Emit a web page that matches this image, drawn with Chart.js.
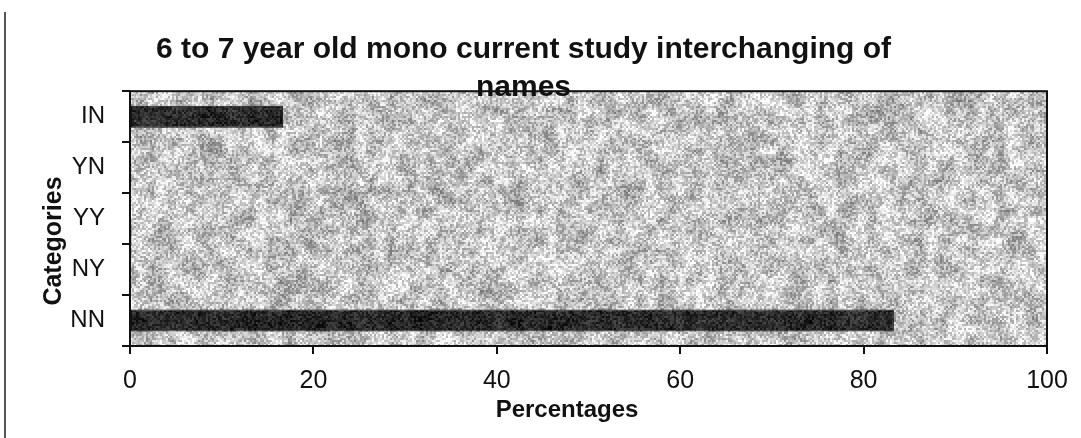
<!DOCTYPE html>
<html>
<head>
<meta charset="utf-8">
<script src="https://cdn.jsdelivr.net/npm/chart.js@4"></script>
<style>
html,body{margin:0;padding:0;background:#fff;}
#wrap{width:1081px;height:438px;position:relative;}
</style>
</head>
<body>
<div id="wrap"><canvas id="c" width="1081" height="438"></canvas></div>
<script>
const titleLines = ['6 to 7 year old mono current study interchanging of', 'names'];
const categories = ['IN', 'YN', 'YY', 'NY', 'NN'];
const percentages = [16.7, 0, 0, 0, 83.3];
const xTicks = [0, 20, 40, 60, 80, 100];
const xTitle = 'Percentages';
const yTitle = 'Categories';

const FONT = 'Liberation Sans, Arial, sans-serif';

// deterministic speckle texture (decorative only, scanned-paper look)
function mulberry32(a) {
  return function () {
    a |= 0; a = a + 0x6D2B79F5 | 0;
    let t = Math.imul(a ^ a >>> 15, 1 | a);
    t = t + Math.imul(t ^ t >>> 7, 61 | t) ^ t;
    return ((t ^ t >>> 14) >>> 0) / 4294967296;
  };
}
function makeTexture(W, H, base, lowAmp, highAmp, seed) {
  const c = document.createElement('canvas');
  c.width = W; c.height = H;
  const g = c.getContext('2d');
  const rnd = mulberry32(seed);
  const cell = 10;
  const GX = Math.ceil(W / cell) + 2, GY = Math.ceil(H / cell) + 2;
  const low = new Float32Array(GX * GY);
  for (let i = 0; i < low.length; i++) low[i] = rnd() - 0.5;
  const img = g.createImageData(W, H);
  const d = img.data;
  for (let y = 0; y < H; y += 2) {
    for (let x = 0; x < W; x += 2) {
      const gx = x / cell, gy = y / cell;
      const x0 = Math.floor(gx), y0 = Math.floor(gy);
      const fx = gx - x0, fy = gy - y0;
      const a = low[y0 * GX + x0], b = low[y0 * GX + x0 + 1];
      const cc = low[(y0 + 1) * GX + x0], dd = low[(y0 + 1) * GX + x0 + 1];
      const l = (a * (1 - fx) + b * fx) * (1 - fy) + (cc * (1 - fx) + dd * fx) * fy;
      const v = Math.max(0, Math.min(255, Math.round(base + l * lowAmp + (rnd() - 0.5) * highAmp)));
      for (let yy = y; yy < Math.min(y + 2, H); yy++) {
        for (let xx = x; xx < Math.min(x + 2, W); xx++) {
          const k = (yy * W + xx) * 4;
          d[k] = d[k + 1] = d[k + 2] = v; d[k + 3] = 255;
        }
      }
    }
  }
  g.putImageData(img, 0, 0);
  return c;
}
const ctx = document.getElementById('c').getContext('2d');
const bgPattern = ctx.createPattern(makeTexture(1081, 438, 198, 80, 95, 12345), 'no-repeat');
const barPattern = ctx.createPattern(makeTexture(1081, 438, 42, 30, 55, 777), 'no-repeat');

const framePlugin = {
  id: 'frame',
  beforeDraw(chart) {
    const a = chart.chartArea, g = chart.ctx;
    g.save();
    g.fillStyle = bgPattern;
    g.fillRect(a.left, a.top, a.right - a.left, a.bottom - a.top);
    // scanned page edge on the left
    g.strokeStyle = '#555';
    g.lineWidth = 2;
    g.beginPath(); g.moveTo(5, 12); g.lineTo(5, 438); g.stroke();
    g.restore();
  },
  afterDraw(chart) {
    const a = chart.chartArea, g = chart.ctx;
    g.save();
    g.strokeStyle = '#111';
    g.lineWidth = 2;
    g.strokeRect(a.left, a.top, a.right - a.left, a.bottom - a.top);
    // axis titles
    g.fillStyle = '#111';
    g.textAlign = 'center';
    g.textBaseline = 'middle';
    g.font = 'bold 24px ' + FONT;
    g.fillText(xTitle, 567, 410);
    g.translate(54, 241);
    g.rotate(-Math.PI / 2);
    g.font = 'bold 25px ' + FONT;
    g.fillText(yTitle, 0, 0);
    g.restore();
  }
};

new Chart(ctx, {
  type: 'bar',
  data: {
    labels: categories,
    datasets: [{
      data: percentages,
      backgroundColor: barPattern,
      borderColor: '#111',
      borderWidth: 1,
      borderSkipped: false,
      categoryPercentage: 1,
      barPercentage: 0.43
    }]
  },
  options: {
    indexAxis: 'y',
    responsive: false,
    animation: false,
    layout: { padding: { left: 0, right: 34, top: 0, bottom: 0 } },
    plugins: {
      legend: { display: false },
      tooltip: { enabled: false },
      title: {
        display: true,
        text: titleLines,
        color: '#111',
        font: { family: FONT, size: 30, weight: 'bold', lineHeight: 1.27 },
        padding: { top: 31, bottom: -16 }
      }
    },
    scales: {
      x: {
        min: 0, max: 100,
        afterBuildTicks(scale) { scale.ticks = xTicks.map(v => ({ value: v })); },
        afterFit(scale) { scale.height = 92; },
        grid: { drawOnChartArea: false, tickLength: 8, color: '#111', lineWidth: 2 },
        border: { color: '#111', width: 2 },
        ticks: { color: '#111', padding: 12, maxRotation: 0, font: { family: FONT, size: 25 } },
        title: { display: false }
      },
      y: {
        afterFit(scale) { scale.width = 130; },
        grid: { drawOnChartArea: false, tickLength: 8, color: '#111', lineWidth: 2, offset: true },
        border: { color: '#111', width: 2 },
        ticks: { color: '#111', padding: 17, font: { family: FONT, size: 24 } },
        title: { display: false }
      }
    }
  },
  plugins: [framePlugin]
});
</script>
</body>
</html>
